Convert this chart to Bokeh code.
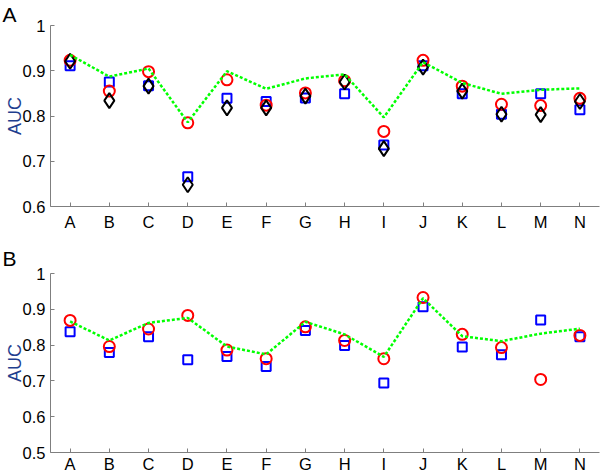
from bokeh.plotting import figure
from bokeh.models import FactorRange, Range1d, FixedTicker
from bokeh.layouts import column
from bokeh.embed import file_html
from bokeh.resources import INLINE

datasets = ["A", "B", "C", "D", "E", "F", "G", "H", "I", "J", "K", "L", "M", "N"]

# Panel A
a_line = [0.935, 0.887, 0.905, 0.786, 0.899, 0.860, 0.883, 0.892, 0.797, 0.919, 0.873, 0.849, 0.858, 0.861]
a_circle = [0.923, 0.855, 0.898, 0.785, 0.880, 0.824, 0.851, 0.878, 0.766, 0.923, 0.866, 0.826, 0.823, 0.839]
a_square = [0.911, 0.875, 0.867, 0.666, 0.839, 0.832, 0.840, 0.849, 0.736, 0.911, 0.849, 0.804, 0.849, 0.814]
a_diamond = [0.921, 0.834, 0.866, 0.648, 0.818, 0.818, 0.844, 0.875, 0.728, 0.908, 0.855, 0.804, 0.803, 0.832]
a_yticks = [0.6, 0.7, 0.8, 0.9, 1.0]

# Panel B
b_line = [0.866, 0.813, 0.862, 0.876, 0.796, 0.774, 0.865, 0.830, 0.767, 0.931, 0.825, 0.811, 0.832, 0.846]
b_circle = [0.869, 0.796, 0.845, 0.883, 0.786, 0.762, 0.851, 0.813, 0.762, 0.933, 0.830, 0.793, 0.704, 0.827]
b_square = [0.837, 0.779, 0.823, 0.759, 0.768, 0.740, 0.841, 0.799, 0.694, 0.907, 0.795, 0.773, 0.870, 0.823]
b_yticks = [0.5, 0.6, 0.7, 0.8, 0.9, 1.0]

FONT = "Liberation Sans"
AXIS_GRAY = "#7f7f7f"


def make_panel(letter, yticks, line, circle, square, diamond, height, top, bottom,
               label_standoff, title_standoff):
    p = figure(width=600, height=height, output_backend="svg", toolbar_location=None,
               x_range=FactorRange(factors=datasets, range_padding=0),
               y_range=Range1d(yticks[0], yticks[-1]),
               min_border_left=50, min_border_right=1,
               min_border_top=top, min_border_bottom=bottom)
    p.outline_line_color = None
    p.grid.visible = False
    p.background_fill_color = "white"
    p.border_fill_color = "white"

    p.title.text = letter
    p.title.text_font = FONT
    p.title.text_font_size = "21px"
    p.title.text_font_style = "normal"
    p.title.text_color = "black"
    p.title.align = "left"
    p.title.offset = -48
    p.title.standoff = title_standoff

    for ax in (p.xaxis[0], p.yaxis[0]):
        ax.axis_line_color = AXIS_GRAY
        ax.major_tick_line_color = AXIS_GRAY
        ax.major_tick_in = 4
        ax.major_tick_out = 0
        ax.minor_tick_line_color = None
        ax.major_label_text_font = FONT
        ax.major_label_text_font_size = "16.5px"
        ax.major_label_text_color = "black"
    p.xaxis.major_label_standoff = label_standoff
    p.yaxis.major_label_standoff = 5
    p.yaxis.ticker = FixedTicker(ticks=yticks)
    p.yaxis.major_label_overrides = {1: "1"}
    p.yaxis.axis_label = "AUC"
    p.yaxis.axis_label_text_font = FONT
    p.yaxis.axis_label_text_font_size = "18px"
    p.yaxis.axis_label_text_font_style = "normal"
    p.yaxis.axis_label_text_color = "#1f3f8f"
    p.yaxis.axis_label_standoff = -5

    p.scatter(datasets, square, marker="square", size=9, fill_color=None,
              line_color="#0000ff", line_width=2)
    p.scatter(datasets, circle, marker="circle", size=11, fill_color=None,
              line_color="#ff0000", line_width=2)
    if diamond is not None:
        p.scatter(datasets, diamond, marker="diamond", size=15, fill_color=None,
                  line_color="black", line_width=2)
    p.line(datasets, line, line_color="#00ff00", line_width=2.5, line_dash="3 2")
    return p


pa = make_panel("A", a_yticks, a_line, a_circle, a_square, a_diamond,
                height=240, top=25, bottom=34, label_standoff=6, title_standoff=0)
pb = make_panel("B", b_yticks, b_line, b_circle, b_square, None,
                height=235, top=33, bottom=21, label_standoff=2, title_standoff=7)

layout = column(pa, pb, spacing=0)
open("out.html", "w").write(file_html(layout, INLINE))
